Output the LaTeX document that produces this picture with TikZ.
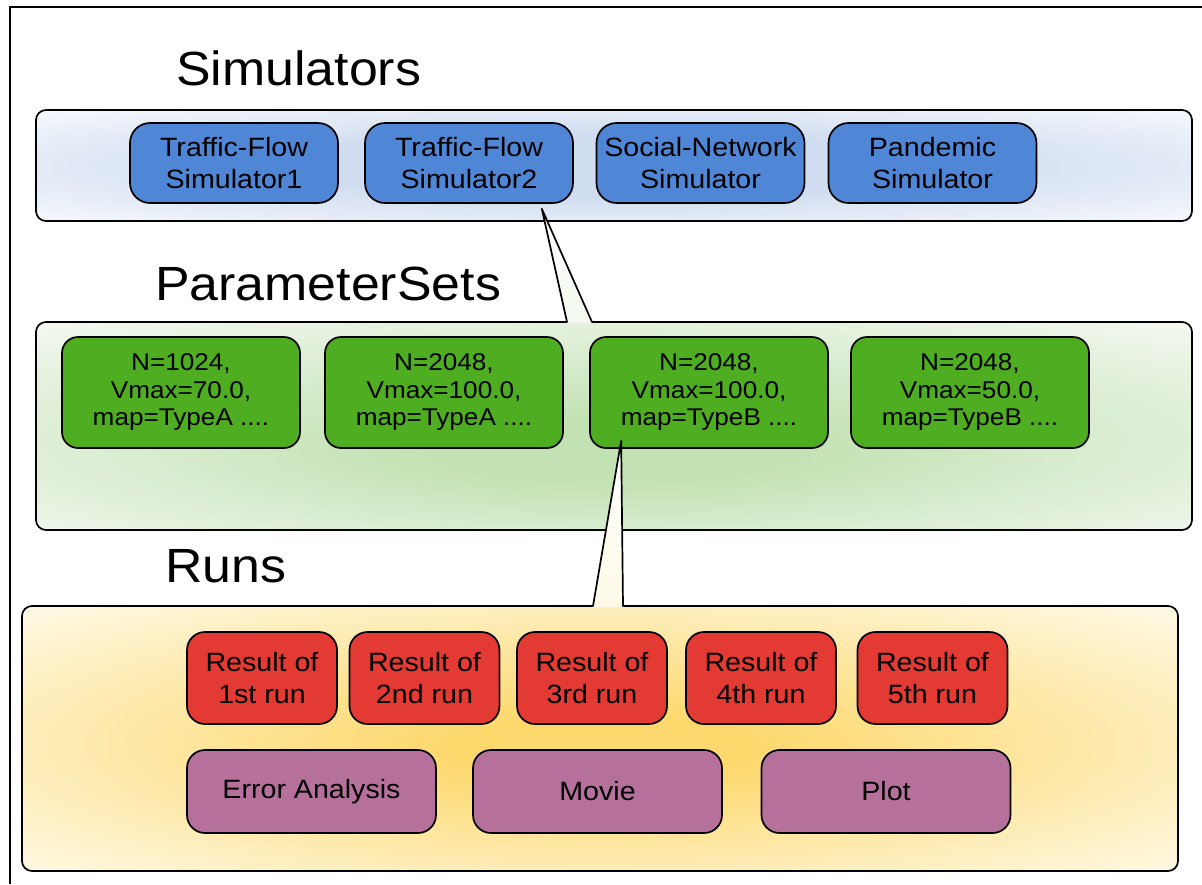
\documentclass[tikz,border=0pt]{standalone}
\usepackage{fontspec}
\setmainfont{Liberation Sans}[FakeStretch=1.08]
\usetikzlibrary{calc}

\definecolor{simblue}{RGB}{80,134,214}
\definecolor{parmgreen}{RGB}{78,173,32}
\definecolor{runred}{RGB}{227,58,52}
\definecolor{toolpurple}{RGB}{181,113,156}
\definecolor{siminner}{RGB}{208,221,240}
\definecolor{simouter}{RGB}{244,247,252}
\definecolor{parminner}{RGB}{195,226,180}
\definecolor{parmouter}{RGB}{242,248,239}
\definecolor{runinner}{RGB}{253,216,108}
\definecolor{runouter}{RGB}{255,250,232}

% soft glows used as the background of each layer
\pgfdeclareradialshading{simglow}{\pgfpoint{0bp}{0bp}}{%
  color(0bp)=(siminner); color(14bp)=(siminner); color(34bp)=(simouter); color(50bp)=(simouter)}
\pgfdeclareradialshading{parmglow}{\pgfpoint{0bp}{-7bp}}{%
  color(0bp)=(parminner); color(8bp)=(parminner); color(36bp)=(parmouter); color(50bp)=(parmouter)}
\pgfdeclareradialshading{runglow}{\pgfpoint{0bp}{-2bp}}{%
  color(0bp)=(runinner); color(6bp)=(runinner); color(36bp)=(runouter); color(50bp)=(runouter)}

\begin{document}
\begin{tikzpicture}[x=1pt,y=-1pt,
  outline/.style={draw=black, line width=1.7pt, line cap=round, line join=round},
  layertitle/.style={anchor=base west, inner sep=0pt, font=\fontsize{48}{56}\selectfont},
  entity/.style={outline, align=center, inner sep=0pt,
                 font=\fontsize{26.5}{32}\selectfont},
  simnode/.style={entity, fill=simblue, rounded corners=20pt,
                  minimum width=208pt, minimum height=80pt},
  parmnode/.style={entity, fill=parmgreen, rounded corners=16pt,
                   minimum width=238pt, minimum height=111pt,
                   font=\fontsize{24.2}{27.5}\selectfont},
  runnode/.style={entity, fill=runred, rounded corners=18pt,
                  minimum width=150pt, minimum height=92pt},
  toolnode/.style={entity, fill=toolpurple, rounded corners=18pt,
                   minimum width=249pt, minimum height=83pt}]

\useasboundingbox (0,0) rectangle (1202,884);

% page frame
\draw[line width=2pt] (10,884) -- (10,7) -- (1202,7);

% ---------------- Simulators layer ----------------
\node[layertitle] (simtitle) at (176,85) {Simulators};
\shade[rounded corners=10pt, shading=simglow] (36,110) rectangle (1192,221);
\draw[outline, rounded corners=10pt] (36,110) rectangle (1192,221);

\node[simnode] (sim1) at (234,163)   {Traffic-Flow\\Simulator1};
\node[simnode] (sim2) at (469,163)   {Traffic-Flow\\Simulator2};
\node[simnode] (sim3) at (700.5,163) {Social-Network\\Simulator};
\node[simnode] (sim4) at (932.5,163) {Pandemic\\Simulator};

% ---------------- ParameterSets layer ----------------
\node[layertitle] (parmtitle) at (155,300) {ParameterSets};

\coordinate (psA) at ($(sim2.south east)+(-32,5)$);
\coordinate (psL) at (567,322);
\coordinate (psR) at (592,322);

\shade[rounded corners=10pt, shading=parmglow] (36,322) rectangle (1192,530);
\shade[top color=white, bottom color=parmouter]
  (psA) -- ($(psR)+(0,1)$) -- ($(psL)+(0,1)$) -- cycle;
\draw[outline] (psR) -- (psA) -- (psL)
  [rounded corners=10pt] -- (36,322) -- (36,530) -- (1192,530) -- (1192,322) -- (psR);

\node[parmnode] (ps1) at (181,392.5) {N=1024,\\Vmax=70.0,\\map=TypeA ....};
\node[parmnode] (ps2) at (444,392.5) {N=2048,\\Vmax=100.0,\\map=TypeA ....};
\node[parmnode] (ps3) at (709,392.5) {N=2048,\\Vmax=100.0,\\map=TypeB ....};
\node[parmnode] (ps4) at (970,392.5) {N=2048,\\Vmax=50.0,\\map=TypeB ....};

% ---------------- Runs layer ----------------
\node[layertitle] (runtitle) at (165,582) {Runs};

\coordinate (rnA) at ($(ps3.south west)+(32,-8)$);
\coordinate (rnL) at (593,606);
\coordinate (rnR) at (623,606);

\shade[rounded corners=10pt, shading=runglow] (22,606) rectangle (1178,871);
\shade[top color=white, bottom color=runouter]
  (rnA) -- ($(rnR)+(0,1)$) -- ($(rnL)+(0,1)$) -- cycle;
\draw[outline] (rnR) -- (rnA) -- (rnL)
  [rounded corners=10pt] -- (22,606) -- (22,871) -- (1178,871) -- (1178,606) -- (rnR);

\node[runnode] (run1) at (262,678)   {Result of\\1st run};
\node[runnode] (run2) at (424.5,678) {Result of\\2nd run};
\node[runnode] (run3) at (592,678)   {Result of\\3rd run};
\node[runnode] (run4) at (761,678)   {Result of\\4th run};
\node[runnode] (run5) at (932.5,678) {Result of\\5th run};

\node[toolnode] (err)   at (311.5,791.5) {Error Analysis};
\node[toolnode] (movie) at (597.5,791.5) {Movie};
\node[toolnode] (plot)  at (886,791.5)   {Plot};

\end{tikzpicture}
\end{document}
